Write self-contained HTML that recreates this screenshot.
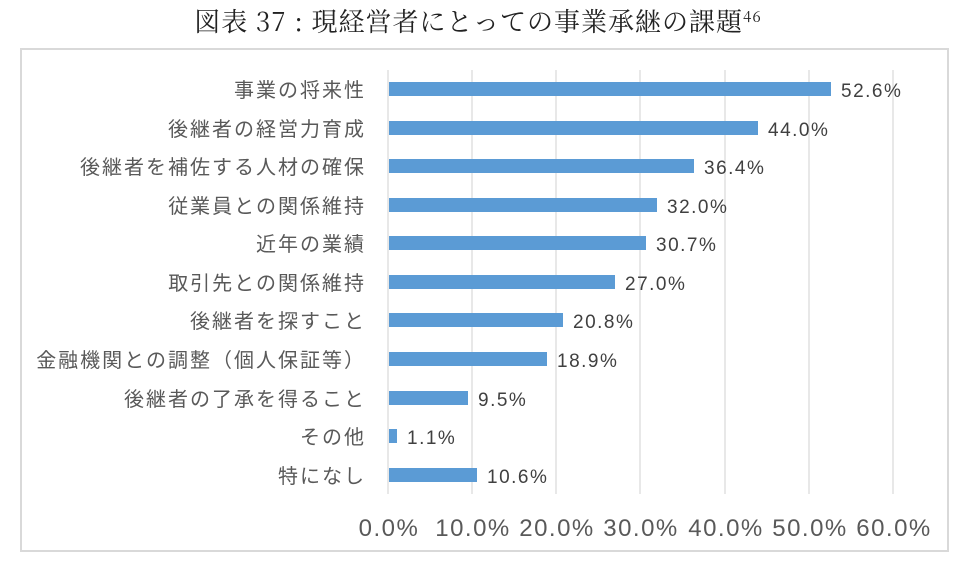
<!DOCTYPE html>
<html><head><meta charset="utf-8"><style>
body{margin:0;background:#fff;width:967px;height:576px;overflow:hidden}
</style></head><body>
<svg width="967" height="576" xmlns="http://www.w3.org/2000/svg" font-family="'Liberation Sans','Noto Sans CJK JP',sans-serif">
<text x="478" y="31" text-anchor="middle" font-size="26" letter-spacing="1" font-family="'Noto Serif CJK SC',serif" fill="#222">図表 37 : 現経営者にとっての事業承継の課題<tspan font-size="15" dy="-9">46</tspan></text>
<rect x="21" y="49" width="927" height="502" fill="none" stroke="#d9d9d9" stroke-width="2"/>
<g stroke="#d9d9d9" stroke-width="1.2">
<line x1="388" y1="70" x2="388" y2="494"/><line x1="472" y1="70" x2="472" y2="494"/><line x1="556" y1="70" x2="556" y2="494"/><line x1="640" y1="70" x2="640" y2="494"/><line x1="725" y1="70" x2="725" y2="494"/><line x1="809" y1="70" x2="809" y2="494"/><line x1="893" y1="70" x2="893" y2="494"/>
</g>
<g fill="#5b9bd5">
<rect x="389" y="82" width="442" height="14"/>
<rect x="389" y="121" width="369" height="14"/>
<rect x="389" y="159" width="305" height="14"/>
<rect x="389" y="198" width="268" height="14"/>
<rect x="389" y="236" width="257" height="14"/>
<rect x="389" y="275" width="226" height="14"/>
<rect x="389" y="313" width="174" height="14"/>
<rect x="389" y="352" width="158" height="14"/>
<rect x="389" y="391" width="79" height="14"/>
<rect x="389" y="429" width="8" height="14"/>
<rect x="389" y="468" width="88" height="14"/>
</g>
<g font-size="20" fill="#595959" text-anchor="end" letter-spacing="2">
<text x="366" y="97">事業の将来性</text>
<text x="366" y="136">後継者の経営力育成</text>
<text x="366" y="174">後継者を補佐する人材の確保</text>
<text x="366" y="213">従業員との関係維持</text>
<text x="366" y="251">近年の業績</text>
<text x="366" y="290">取引先との関係維持</text>
<text x="366" y="328">後継者を探すこと</text>
<text x="366" y="367">金融機関との調整（個人保証等）</text>
<text x="366" y="406">後継者の了承を得ること</text>
<text x="366" y="444">その他</text>
<text x="366" y="483">特になし</text>
</g>
<g font-size="19" fill="#404040" letter-spacing="1.5">
<text x="841" y="97">52.6%</text>
<text x="768" y="136">44.0%</text>
<text x="704" y="174">36.4%</text>
<text x="667" y="213">32.0%</text>
<text x="656" y="251">30.7%</text>
<text x="625" y="290">27.0%</text>
<text x="573" y="328">20.8%</text>
<text x="557" y="367">18.9%</text>
<text x="478" y="406">9.5%</text>
<text x="407" y="444">1.1%</text>
<text x="487" y="483">10.6%</text>
</g>
<g font-size="24" fill="#595959" text-anchor="middle" letter-spacing="1.5">
<text x="389" y="536">0.0%</text><text x="473" y="536">10.0%</text><text x="557" y="536">20.0%</text><text x="641" y="536">30.0%</text><text x="726" y="536">40.0%</text><text x="810" y="536">50.0%</text><text x="894" y="536">60.0%</text>
</g>
</svg>
</body></html>
